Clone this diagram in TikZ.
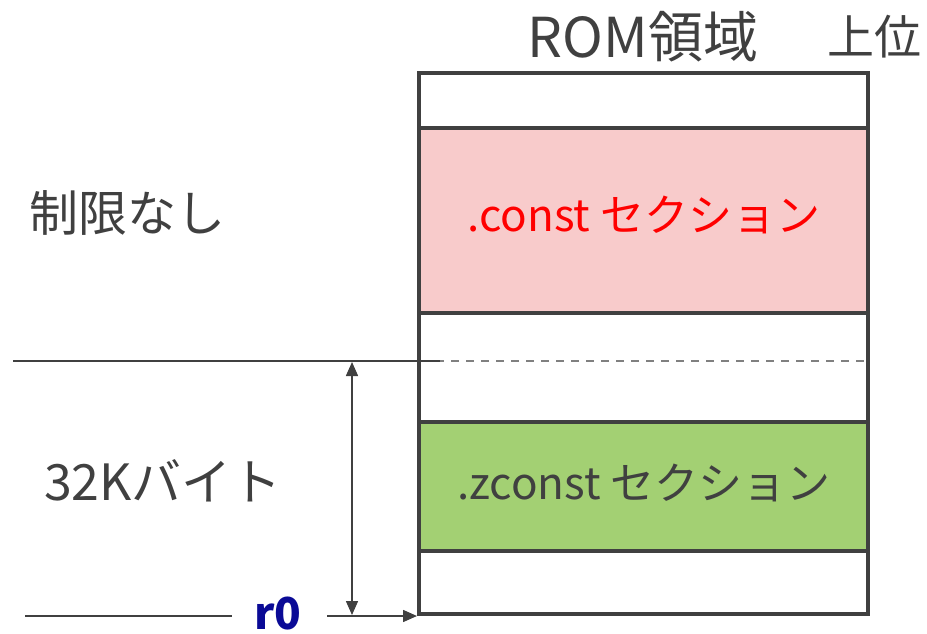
\documentclass[tikz,border=0pt]{standalone}
\usepackage{fontspec}
\setmainfont{Noto Sans CJK JP}
\usetikzlibrary{arrows.meta}
\definecolor{ink}{HTML}{404040}
\definecolor{pinkfill}{HTML}{F8CBCB}
\definecolor{greenfill}{HTML}{A3D073}
\definecolor{regblue}{HTML}{0A0A96}
\tikzset{
  lbl/.style={text=ink, font=\fontsize{44}{48}\selectfont, inner sep=0pt},
  sec/.style={draw=ink, line width=4pt},
  thin/.style={draw=ink, line width=1.5pt},
  tip/.style={-{Triangle[length=14pt,width=12pt]}}
}
\begin{document}
\begin{tikzpicture}[x=1pt,y=-1pt]
\useasboundingbox (0,0) rectangle (927,634);
% sections
\fill[pinkfill] (419,128) rectangle (868,313);
\fill[greenfill] (419,422) rectangle (868,551);
\draw[gray, line width=1.5pt, dash pattern=on 8pt off 7pt] (421,361) -- (866,361);
\draw[sec] (419,128) -- (868,128);
\draw[sec] (419,313) -- (868,313);
\draw[sec] (419,422) -- (868,422);
\draw[sec] (419,551) -- (868,551);
\draw[sec] (419,73) rectangle (868,614);
% texts
\node[lbl, font=\fontsize{55}{58}\selectfont] (rom) at (643,37) {ROM領域};
\node[lbl, font=\fontsize{47}{50}\selectfont] (jyoui) at (874,37) {上位};
\node[lbl, font=\fontsize{49}{52}\selectfont] (nolimit) at (128,213) {制限なし};
\node[lbl, font=\fontsize{50}{53}\selectfont] (k32) at (163,481) {32Kバイト};
\node[lbl, text=red] (const) at (644,215) {.const セクション};
\node[lbl] (zconst) at (644,483) {.zconst セクション};
\node[lbl, text=regblue, font=\fontsize{44}{48}\selectfont\bfseries] (r0) at (278,614) {r0};
% connectors
\coordinate (hl) at (13,361);
\coordinate (hr) at (440,361);
\draw[thin] (hl) -- (hr);
\coordinate (va) at (352,362);
\coordinate (vb) at (352,615);
\draw[thin, {Triangle[length=14pt,width=12pt]}-{Triangle[length=14pt,width=12pt]}] (va) -- (vb);
\coordinate (bl) at (25,616);
\coordinate (bm) at (232,616);
\draw[thin] (bl) -- (bm);
\coordinate (ar) at (327,616);
\coordinate (ab) at (417,616);
\draw[thin, tip] (ar) -- (ab);
\end{tikzpicture}
\end{document}
